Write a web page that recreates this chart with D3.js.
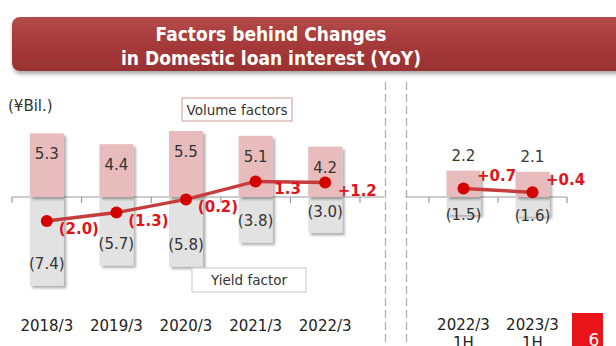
<!DOCTYPE html>
<html>
<head>
<meta charset="utf-8">
<script src="https://cdn.jsdelivr.net/npm/d3@7"></script>
<style>
  html, body { margin: 0; padding: 0; background: #fff; }
  svg { display: block; }
</style>
</head>
<body>
<svg id="chart" width="616" height="346"></svg>
<script>
// Annual periods (left panel)
const annualCats = ["2018/3", "2019/3", "2020/3", "2021/3", "2022/3"];
const annualVolume = [5.3, 4.4, 5.5, 5.1, 4.2];
const annualYield = [-7.4, -5.7, -5.8, -3.8, -3.0];
const annualNet = [-2.0, -1.3, -0.2, 1.3, 1.2];
const annualNetText = ["(2.0)", "(1.3)", "(0.2)", "1.3", "+1.2"];

// First-half periods (right panel)
const halfCats = ["2022/3", "2023/3"];
const halfSub = ["1H", "1H"];
const halfVolume = [2.2, 2.1];
const halfYield = [-1.5, -1.6];
const halfNet = [0.7, 0.4];
const halfNetText = ["+0.7", "+0.4"];

const titleLines = ["Factors behind Changes", "in Domestic loan interest (YoY)"];
const unitLabel = "(¥Bil.)";
const volumeLegend = "Volume factors";
const yieldLegend = "Yield factor";
const pageNumber = "6";

const svg = d3.select("#chart");
const FONT = "'DejaVu Sans', Verdana, sans-serif";

const defs = svg.append("defs");
const grad = defs.append("linearGradient").attr("id", "banner").attr("x1", 0).attr("y1", 0).attr("x2", 0).attr("y2", 1);
grad.append("stop").attr("offset", "0%").attr("stop-color", "#b44a4a");
grad.append("stop").attr("offset", "50%").attr("stop-color", "#a63a3a");
grad.append("stop").attr("offset", "100%").attr("stop-color", "#9a3232");

const shadow = defs.append("filter").attr("id", "shadow").attr("x", "-20%").attr("y", "-20%").attr("width", "150%").attr("height", "150%");
shadow.append("feDropShadow").attr("dx", 2.5).attr("dy", 2.5).attr("stdDeviation", 1.2)
  .attr("flood-color", "#000").attr("flood-opacity", 0.3);

const bannerShadow = defs.append("filter").attr("id", "bshadow").attr("x", "-5%").attr("y", "-20%").attr("width", "110%").attr("height", "160%");
bannerShadow.append("feDropShadow").attr("dx", 1).attr("dy", 3).attr("stdDeviation", 2)
  .attr("flood-color", "#000").attr("flood-opacity", 0.35);

// Title banner
svg.append("rect").attr("x", 12).attr("y", 17).attr("width", 640).attr("height", 54)
  .attr("rx", 8).attr("fill", "url(#banner)").attr("filter", "url(#bshadow)");
const titleWidths = [231, 300];
titleLines.forEach((t, i) => {
  svg.append("text").attr("x", 271).attr("y", 40.5 + i * 24.5)
    .attr("text-anchor", "middle").attr("fill", "#fff")
    .attr("font-family", FONT).attr("font-weight", "bold").attr("font-size", 19.5)
    .attr("textLength", titleWidths[i]).attr("lengthAdjust", "spacingAndGlyphs")
    .text(t);
});

// Shared value scale
const y = d3.scaleLinear().domain([-8, 6]).range([293, 125]);
const y0 = y(0);
const barW = 34;

// Separator dashed lines
[385.5, 406.5].forEach(x => {
  svg.append("line").attr("x1", x).attr("x2", x).attr("y1", 82).attr("y2", 346)
    .attr("stroke", "#aaa").attr("stroke-width", 1.3).attr("stroke-dasharray", "8,4");
});

function panel(cats, volume, yieldVals, net, netText, xRange, axisExtent, opts) {
  const x = d3.scaleBand().domain(cats.map((c, i) => i)).range(xRange).paddingInner(0).paddingOuter(0);
  const g = svg.append("g");

  // baseline axis with ticks at band boundaries
  g.append("line").attr("x1", axisExtent[0]).attr("x2", axisExtent[1]).attr("y1", y0).attr("y2", y0)
    .attr("stroke", "#999").attr("stroke-width", 1.2);
  const edges = d3.range(cats.length + 1).map(i => xRange[0] + i * x.step());
  edges.forEach(ex => {
    g.append("line").attr("x1", ex).attr("x2", ex).attr("y1", y0).attr("y2", y0 + 6)
      .attr("stroke", "#999").attr("stroke-width", 1.2);
  });

  const cx = i => x(i) + x.bandwidth() / 2;

  // yield (negative) bars
  g.selectAll(".ybar").data(yieldVals).join("rect")
    .attr("x", (d, i) => cx(i) - barW / 2).attr("width", barW)
    .attr("y", y0).attr("height", d => y(d) - y0)
    .attr("fill", "#e2e2e2").attr("filter", "url(#shadow)");
  // volume (positive) bars
  g.selectAll(".vbar").data(volume).join("rect")
    .attr("x", (d, i) => cx(i) - barW / 2).attr("width", barW)
    .attr("y", d => y(d)).attr("height", d => y0 - y(d))
    .attr("fill", "#e8bcbc").attr("filter", "url(#shadow)");

  // bar value labels
  g.selectAll(".vlab").data(volume).join("text")
    .attr("x", (d, i) => cx(i)).attr("y", d => y(d) + opts.posLabelDy)
    .attr("text-anchor", "middle").attr("font-family", FONT).attr("font-size", 15).attr("fill", "#333")
    .text(d => d.toFixed(1));
  g.selectAll(".ylab").data(yieldVals).join("text")
    .attr("x", (d, i) => cx(i)).attr("y", d => y(d) + opts.negLabelDy)
    .attr("text-anchor", "middle").attr("font-family", FONT).attr("font-size", 15).attr("fill", "#333")
    .text(d => "(" + Math.abs(d).toFixed(1) + ")");

  // net change line
  const line = d3.line().x((d, i) => cx(i)).y(d => y(d));
  g.append("path").datum(net).attr("d", line).attr("fill", "none")
    .attr("stroke", "#c53c3c").attr("stroke-width", 3.5);
  g.selectAll(".dot").data(net).join("circle")
    .attr("cx", (d, i) => cx(i)).attr("cy", d => y(d)).attr("r", 6).attr("fill", "#d40000");
  g.selectAll(".nlab").data(net).join("text")
    .attr("x", (d, i) => cx(i) + opts.netDx).attr("y", d => y(d) + opts.netDy)
    .attr("text-anchor", "middle").attr("font-family", FONT).attr("font-weight", "bold")
    .attr("font-size", 15).attr("fill", "#e0141b")
    .text((d, i) => netText[i]);

  // category labels
  g.selectAll(".cat").data(cats).join("text")
    .attr("x", (d, i) => cx(i)).attr("y", opts.catY)
    .attr("text-anchor", "middle").attr("font-family", FONT).attr("font-size", 15).attr("fill", "#222")
    .text(d => d);
  if (opts.sub) {
    g.selectAll(".sub").data(opts.sub).join("text")
      .attr("x", (d, i) => cx(i)).attr("y", 347.5)
      .attr("text-anchor", "middle").attr("font-family", FONT).attr("font-size", 15).attr("fill", "#222")
      .text(d => d);
  }
}

panel(annualCats, annualVolume, annualYield, annualNet, annualNetText,
  [12, 360], [12, 384], { posLabelDy: 26, negLabelDy: -16.5, netDx: 32, netDy: 13, catY: 330.5 });
panel(halfCats, halfVolume, halfYield, halfNet, halfNetText,
  [429, 567], [407, 567], { posLabelDy: -9.5, negLabelDy: 4.5, netDx: 33, netDy: -7.5, catY: 329.5, sub: halfSub });

// unit label
svg.append("text").attr("x", 8).attr("y", 111).attr("font-family", FONT).attr("font-size", 15)
  .attr("fill", "#333").text(unitLabel);

// legend boxes
function legendBox(x0, y0b, w, h, stroke, label) {
  svg.append("rect").attr("x", x0).attr("y", y0b).attr("width", w).attr("height", h)
    .attr("fill", "#fff").attr("stroke", stroke).attr("stroke-width", 1.2);
  svg.append("text").attr("x", x0 + w / 2).attr("y", y0b + h / 2 + 5)
    .attr("text-anchor", "middle").attr("font-family", FONT).attr("font-size", 13.5).attr("fill", "#333")
    .text(label);
}
legendBox(182, 98, 110, 23, "#d9a9a9", volumeLegend);
legendBox(192, 268, 114, 24, "#d0d0d0", yieldLegend);

// page number
svg.append("rect").attr("x", 572).attr("y", 313).attr("width", 31).attr("height", 40).attr("fill", "#e8141a");
svg.append("text").attr("x", 594).attr("y", 346).attr("text-anchor", "middle")
  .attr("font-family", FONT).attr("font-size", 17).attr("fill", "#fff").text(pageNumber);
</script>
</body>
</html>
